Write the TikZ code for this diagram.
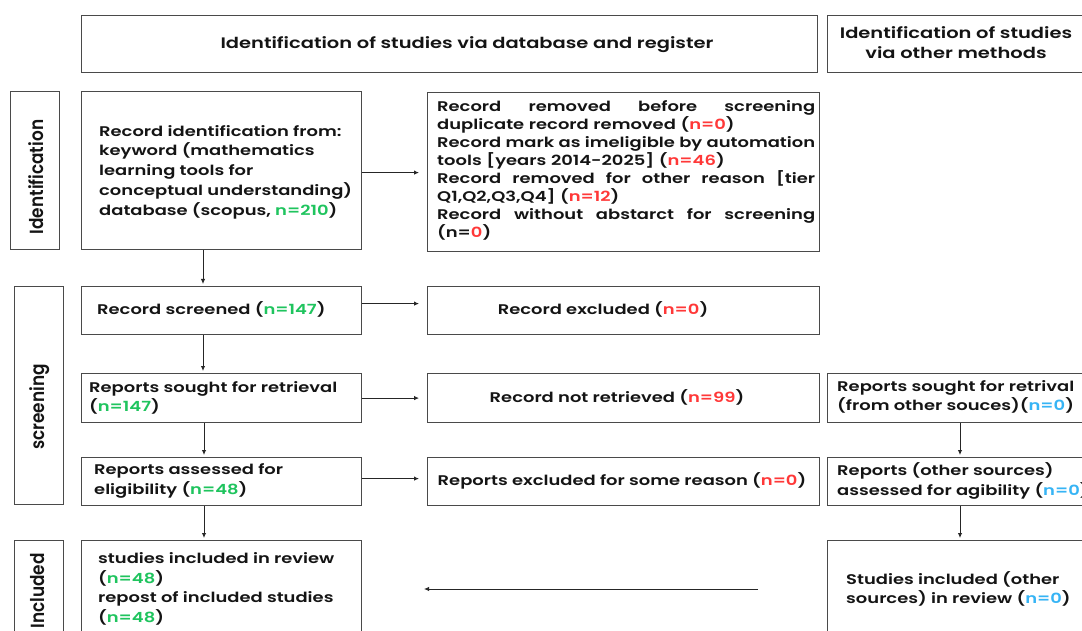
\documentclass[tikz,border=0pt]{standalone}
\usepackage{fontspec}
\setmainfont{Poppins SemiBold}[FakeStretch=1.28]
\newfontfamily\sidefont{Poppins SemiBold}[FakeStretch=0.89]
\usetikzlibrary{arrows.meta}
\definecolor{gr}{HTML}{1FC45E}
\definecolor{rd}{HTML}{FF3838}
\definecolor{bl}{HTML}{36B4F5}
\definecolor{bordc}{HTML}{4A4A4A}
\newcommand\G[1]{\textcolor{gr}{#1}}
\newcommand\Rd[1]{\textcolor{rd}{#1}}
\newcommand\B[1]{\textcolor{bl}{#1}}
\newcommand\J[1]{\leavevmode\hbox to 378pt{#1}}
\tikzset{
  box/.style={draw=bordc, line width=1.2pt, inner sep=0pt, rectangle, anchor=north west},
  txt/.style={inner sep=0pt, align=left, font=\fontsize{14}{19.7}\selectfont, text=black!92},
  hdr/.style={inner sep=0pt, align=center, font=\fontsize{15.2}{20}\selectfont, text=black!92},
  side/.style={inner sep=0pt, rotate=90, font=\sidefont\fontsize{19}{22}\selectfont, text=black!92},
  arr/.style={-{Latex[length=5pt,width=4.5pt]}, line width=0.9pt, black!85}
}
\begin{document}
\begin{tikzpicture}[x=1pt,y=-1pt]
\useasboundingbox (0,0) rectangle (1082,631);
\fill[white] (0,0) rectangle (1082,631);
\clip (0,0) rectangle (1082,631);
% boxes
\node[box, minimum width=736pt, minimum height=57pt] (hdrA) at (81,15) {};
\node[box, minimum width=265pt, minimum height=57pt] (hdrB) at (827,15) {};
\node[box, minimum width=49pt, minimum height=158pt] (labI) at (10,91) {};
\node[box, minimum width=280pt, minimum height=158pt] (b1) at (81,91) {};
\node[box, minimum width=392pt, minimum height=159pt] (b2) at (427,92) {};
\node[box, minimum width=49pt, minimum height=218pt] (labS) at (14,286) {};
\node[box, minimum width=280pt, minimum height=48pt] (scr) at (81,286) {};
\node[box, minimum width=392pt, minimum height=48pt] (exc) at (427,286) {};
\node[box, minimum width=280pt, minimum height=49pt] (sou) at (81,373) {};
\node[box, minimum width=392pt, minimum height=49pt] (nret) at (427,373) {};
\node[box, minimum width=265pt, minimum height=49pt] (osou) at (827,373) {};
\node[box, minimum width=280pt, minimum height=48pt] (ass) at (81,457) {};
\node[box, minimum width=392pt, minimum height=48pt] (exs) at (427,457) {};
\node[box, minimum width=265pt, minimum height=48pt] (oass) at (827,457) {};
\node[box, minimum width=49pt, minimum height=100pt] (labN) at (14,540) {};
\node[box, minimum width=280pt, minimum height=100pt] (inc) at (81,540) {};
\node[box, minimum width=265pt, minimum height=100pt] (oinc) at (827,540) {};
% texts
\node[hdr] (thA) at (467,45) {Identification of studies via database and register};
\node[hdr] (thB) at (956,43) {Identification of studies\\via other methods};
\node[side] (tI) at (36,177) {Identification};
\node[side] (tS) at (40,407) {screening};
\node[side] (tN) at (38,591) {Included};
\node[txt, anchor=west] (t1) at (99,172) {Record identification from:\\keyword (mathematics\\learning tools for\\conceptual understanding)\\database (scopus, \G{n=210})};
\node[txt, anchor=west, font=\fontsize{14}{18}\selectfont, text width=378pt] (t2) at (437,170) {\J{Record\hfill removed\hfill before\hfill screening}\\duplicate record removed (\Rd{n=0})\\\J{Record\hfill mark\hfill as\hfill imeligible\hfill by\hfill automation}\\tools [years 2014-2025] (\Rd{n=46})\\\J{Record\hfill removed\hfill for\hfill other\hfill reason\hfill [tier}\\Q1,Q2,Q3,Q4] (\Rd{n=12})\\\J{Record\hfill without\hfill abstarct\hfill for\hfill screening}\\(n=\Rd{0})};
\node[txt, anchor=west] (t3) at (97,309) {Record screened (\G{n=147})};
\node[txt] (t4) at (603,309) {Record excluded (\Rd{n=0})};
\node[txt, anchor=west] (t5) at (89,398) {Reports sought for retrieval\\(\G{n=147})};
\node[txt] (t6) at (617,397) {Record not retrieved (\Rd{n=99})};
\node[txt, anchor=west] (t7) at (837,397) {Reports sought for retrival\\(from other souces)(\B{n=0})};
\node[txt, anchor=west] (t8) at (94,481) {Reports assessed for\\eligibility (\G{n=48})};
\node[txt] (t9) at (622,481) {Reports excluded for some reason (\Rd{n=0})};
\node[txt, anchor=west] (t10) at (837,481) {Reports (other sources)\\assessed for agibility (\B{n=0})};
\node[txt, anchor=west] (t11) at (98,589) {studies included in review\\(\G{n=48})\\repost of included studies\\(\G{n=48})};
\node[txt, anchor=west] (t12) at (846,589) {Studies included (other\\sources) in review (\B{n=0})};
% connectors
\coordinate (cL) at (203,0);
\coordinate (cL2) at (204,0);
\coordinate (cR) at (960,0);
\draw[arr, shorten >=2pt] (b1.south -| cL) -- (scr.north -| cL);
\draw[arr, shorten >=2pt] (scr.south -| cL) -- (sou.north -| cL);
\draw[arr, shorten >=2pt] (sou.south -| cL2) -- (ass.north -| cL2);
\draw[arr, shorten >=2pt] (ass.south -| cL2) -- (inc.north -| cL2);
\draw[arr, shorten >=2pt] (osou.south -| cR) -- (oass.north -| cR);
\draw[arr, shorten >=2pt] (oass.south -| cR) -- (oinc.north -| cR);
\draw[arr, shorten >=8pt] ([yshift=-2pt]b1.east) -- ([yshift=-2pt]b1.east -| b2.west);
\draw[arr, shorten >=8pt] ([yshift=7pt]scr.east) -- ([yshift=7pt]scr.east -| exc.west);
\draw[arr, shorten >=8pt] (sou.east) -- (sou.east -| nret.west);
\draw[arr, shorten >=8pt] ([yshift=3pt]ass.east) -- ([yshift=3pt]ass.east -| exs.west);
\coordinate (aS) at (758,589);
\coordinate (aE) at (424,589);
\draw[arr] (aS) -- (aE);
\end{tikzpicture}
\end{document}
